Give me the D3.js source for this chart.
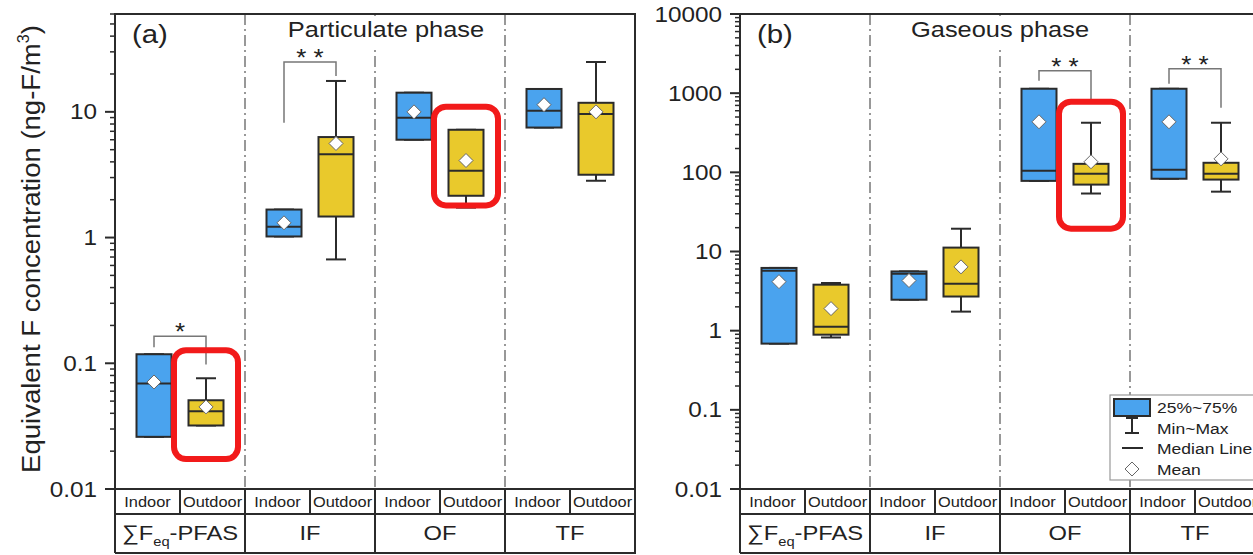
<!DOCTYPE html>
<html>
<head>
<meta charset="utf-8">
<script src="https://cdn.jsdelivr.net/npm/d3@7"></script>
<style>
  body { margin: 0; background: #fff; }
  svg { display: block; }
  text { font-family: "Liberation Sans", Arial, sans-serif; fill: #222; }
</style>
</head>
<body>
<svg id="chart" width="1253" height="555"></svg>
<script>
// categories
const groups = ["PFAS", "IF", "OF", "TF"];
const sites = ["Indoor", "Outdoor"];

// box stats per group: [min, q1, median, q3, max, mean]
const partIndoor = [
  [0.026, 0.026, 0.069, 0.118, 0.118, 0.071],
  [1.02, 1.02, 1.22, 1.67, 1.67, 1.31],
  [6.0, 6.0, 8.96, 14.2, 14.2, 10.0],
  [7.5, 7.5, 10.2, 15.2, 15.2, 11.4]
];
const partOutdoor = [
  [0.032, 0.032, 0.0416, 0.0508, 0.076, 0.045],
  [0.67, 1.47, 4.6, 6.3, 17.6, 5.6],
  [1.73, 2.15, 3.4, 7.2, 7.2, 4.1],
  [2.83, 3.16, 9.6, 11.8, 24.9, 10.0]
];
const gasIndoor = [
  [0.686, 0.686, 5.7, 6.2, 6.2, 4.16],
  [2.46, 2.46, 5.25, 5.6, 5.6, 4.3],
  [78, 78, 105, 1137, 1137, 435],
  [83, 83, 108, 1137, 1137, 435]
];
const gasOutdoor = [
  [0.82, 0.89, 1.12, 3.81, 4.0, 1.9],
  [1.74, 2.7, 3.92, 11.2, 19.4, 6.4],
  [54, 70, 96, 128, 423, 136],
  [57, 81, 96, 132, 423, 148]
];

// significance brackets: left leg end, top, right leg end (values)
const partSig = [
  { group: 0, text: "*", left: 0.134, top: 0.164, right: 0.098 },
  { group: 1, text: "* *", left: 8.2, top: 24.9, right: 19.3 }
];
const gasSig = [
  { group: 2, text: "* *", left: 1435, top: 1919, right: 826 },
  { group: 3, text: "* *", left: 1315, top: 2032, right: 654 }
];

// red highlight frames (value range around a box)
const partMarks = [
  { group: 0, site: 1, hi: 0.127, lo: 0.0173 },
  { group: 2, site: 1, hi: 11, lo: 1.8 }
];
const gasMarks = [
  { group: 2, site: 1, hi: 780, lo: 19.4 }
];

const partTicks = [0.01, 0.1, 1, 10];
const gasTicks = [0.01, 0.1, 1, 10, 100, 1000, 10000];

const legendItems = ["25%~75%", "Min~Max", "Median Line", "Mean"];

// layout
const SX = 1.13;               // source picture is a bit wider than tall
const TOP = 14, BOTTOM = 489, ROW1 = 514, ROW2 = 553;
const FILL = ["#4aa3ee", "#e9c92c"];
const INK = "#2b2b2b";

const svg = d3.select("#chart");

function label(g, x, y, str, size, anchor) {
  return g.append("text")
    .attr("transform", `translate(${x},${y}) scale(${SX},1)`)
    .attr("font-size", size)
    .attr("text-anchor", anchor || "middle")
    .text(str);
}

function groupLabel(g, x, y, name, size) {
  const t = g.append("text")
    .attr("transform", `translate(${x},${y}) scale(${SX},1)`)
    .attr("font-size", size)
    .attr("text-anchor", "middle");
  if (name === "PFAS") {
    t.append("tspan").text("\u2211F");
    t.append("tspan").attr("font-size", size * 0.62).attr("dy", 6).text("eq");
    t.append("tspan").attr("dy", -6).text("-PFAS");
  } else {
    t.text(name);
  }
}

function drawPanel(cfg) {
  const g = svg.append("g");
  const y = d3.scaleLog().domain(cfg.domain).range([BOTTOM, TOP]);
  const xg = d3.scaleBand().domain(groups).range([cfg.x0, cfg.x1]);
  const bw = xg.bandwidth();
  const xs = d3.scalePoint().domain(sites).range([bw * 0.3, bw * 0.7]);
  const cx = (gi, si) => xg(groups[gi]) + xs(sites[si]);
  const boxW = 35, capW = 20;

  // dash-dot dividers between groups
  g.selectAll(".div").data(groups.slice(1)).join("line")
    .attr("x1", d => xg(d)).attr("x2", d => xg(d))
    .attr("y1", TOP).attr("y2", BOTTOM)
    .attr("stroke", "#777").attr("stroke-width", 1.5)
    .attr("stroke-dasharray", "11,4,2,4");

  // title with white backing
  const tg = g.append("g");
  const title = label(tg, (cfg.x0 + cfg.x1) / 2 + cfg.titleDx, 37, cfg.title, 22.5);
  const bb = title.node().getBBox();
  const tw = bb.width * SX;
  tg.insert("rect", "text")
    .attr("x", (cfg.x0 + cfg.x1) / 2 + cfg.titleDx - tw / 2 - 4)
    .attr("y", TOP + 2).attr("width", tw + 8).attr("height", 30)
    .attr("fill", "#fff");

  label(g, cfg.x0 + 17, 43, cfg.tag, 26, "start");

  // boxes
  cfg.data.forEach((series, si) => {
    series.forEach((s, gi) => {
      const [mn, q1, med, q3, mx, mean] = s;
      const x = cx(gi, si);
      const b = g.append("g");
      b.append("line").attr("x1", x).attr("x2", x)
        .attr("y1", y(mx)).attr("y2", y(mn))
        .attr("stroke", INK).attr("stroke-width", 2);
      [mn, mx].forEach(v => b.append("line")
        .attr("x1", x - capW / 2).attr("x2", x + capW / 2)
        .attr("y1", y(v)).attr("y2", y(v))
        .attr("stroke", INK).attr("stroke-width", 2));
      b.append("rect")
        .attr("x", x - boxW / 2).attr("width", boxW)
        .attr("y", y(q3)).attr("height", y(q1) - y(q3))
        .attr("fill", FILL[si]).attr("stroke", INK).attr("stroke-width", 2);
      b.append("line")
        .attr("x1", x - boxW / 2).attr("x2", x + boxW / 2)
        .attr("y1", y(med)).attr("y2", y(med))
        .attr("stroke", INK).attr("stroke-width", 2);
      const ym = y(mean), r = 7;
      b.append("path")
        .attr("d", `M${x},${ym - r}L${x + r},${ym}L${x},${ym + r}L${x - r},${ym}Z`)
        .attr("fill", "#fff").attr("stroke", "#666").attr("stroke-width", 1);
    });
  });

  // significance brackets
  cfg.sig.forEach(s => {
    const xl = cx(s.group, 0), xr = cx(s.group, 1);
    g.append("path")
      .attr("d", `M${xl},${y(s.left)}V${y(s.top)}H${xr}V${y(s.right)}`)
      .attr("fill", "none").attr("stroke", "#777").attr("stroke-width", 1.5);
    label(g, (xl + xr) / 2, y(s.top) + 4, s.text, 23);
  });

  // red highlight frames
  cfg.marks.forEach(m => {
    const x = cx(m.group, m.site);
    g.append("rect")
      .attr("x", x - 32).attr("width", 64)
      .attr("y", y(m.hi)).attr("height", y(m.lo) - y(m.hi))
      .attr("rx", 12)
      .attr("fill", "none").attr("stroke", "#f21a1a").attr("stroke-width", 6);
  });

  // y axis ticks
  const d0 = Math.log10(cfg.domain[0]), d1 = Math.log10(cfg.domain[1]);
  const minor = [];
  for (let e = Math.floor(d0); e <= Math.ceil(d1); e++) {
    for (let k = 2; k <= 9; k++) {
      const v = k * Math.pow(10, e);
      if (v >= cfg.domain[0] && v <= cfg.domain[1]) minor.push(v);
    }
  }
  g.selectAll(".minor").data(minor).join("line")
    .attr("x1", cfg.x0 - 5).attr("x2", cfg.x0)
    .attr("y1", d => y(d)).attr("y2", d => y(d))
    .attr("stroke", INK).attr("stroke-width", 1.5);
  g.selectAll(".major").data(cfg.ticks).join("line")
    .attr("x1", cfg.x0 - 10).attr("x2", cfg.x0)
    .attr("y1", d => y(d)).attr("y2", d => y(d))
    .attr("stroke", INK).attr("stroke-width", 2);
  cfg.ticks.forEach(t => {
    label(g, cfg.x0 - 18, y(t) + 7.5, d3.format("~g")(t), 21.5, "end").attr("fill", "#333");
  });

  // frame + table
  const fr = g.append("g").attr("stroke", INK).attr("stroke-width", 2).attr("fill", "none");
  fr.append("path").attr("d",
    `M${cfg.x0},${ROW2}V${TOP}H${cfg.x1}V${ROW2}H${cfg.x0}` +
    `M${cfg.x0},${BOTTOM}H${cfg.x1}M${cfg.x0},${ROW1}H${cfg.x1}`);
  groups.forEach((gname, gi) => {
    const gx = xg(gname);
    if (gi > 0) fr.append("line").attr("x1", gx).attr("x2", gx).attr("y1", BOTTOM).attr("y2", ROW2);
    fr.append("line").attr("x1", gx + bw / 2).attr("x2", gx + bw / 2)
      .attr("y1", BOTTOM).attr("y2", ROW1);
    sites.forEach((s, si) => {
      label(g, gx + bw / 4 + si * bw / 2, ROW1 - 7, s, 14.5);
    });
    groupLabel(g, gx + bw / 2, ROW2 - 13, gname, 21);
  });

  return { g, y };
}

drawPanel({
  x0: 115, x1: 635, domain: [0.01, 60], ticks: partTicks,
  data: [partIndoor, partOutdoor], sig: partSig, marks: partMarks,
  title: "Particulate phase", titleDx: 11, tag: "(a)"
});
drawPanel({
  x0: 740, x1: 1260, domain: [0.01, 10000], ticks: gasTicks,
  data: [gasIndoor, gasOutdoor], sig: gasSig, marks: gasMarks,
  title: "Gaseous phase", titleDx: 0, tag: "(b)"
});

// y axis title
const yt = svg.append("text")
  .attr("font-size", 22)
  .attr("text-anchor", "middle");
yt.append("tspan").text("Equivalent F concentration (ng-F/m");
yt.append("tspan").attr("font-size", 13).attr("dy", -9).text("3");
yt.append("tspan").attr("dy", 9).text(")");
const ylen = yt.node().getComputedTextLength();
yt.attr("transform", `translate(40,249) rotate(-90) scale(${448 / ylen},1.2)`);

// legend
const lg = svg.append("g").attr("transform", "translate(1110,395)");
lg.append("rect").attr("width", 150).attr("height", 85)
  .attr("fill", "#fff").attr("stroke", "#999").attr("stroke-width", 1.2);
lg.append("rect").attr("x", 4).attr("y", 4).attr("width", 36).attr("height", 17)
  .attr("fill", FILL[0]).attr("stroke", INK).attr("stroke-width", 2);
lg.append("path").attr("d", "M16,23H28M22,23V38M15,38H29")
  .attr("stroke", INK).attr("stroke-width", 2).attr("fill", "none");
lg.append("line").attr("x1", 12).attr("x2", 33).attr("y1", 53).attr("y2", 53)
  .attr("stroke", INK).attr("stroke-width", 2);
lg.append("path").attr("d", "M22,67L29,74L22,81L15,74Z")
  .attr("fill", "#fff").attr("stroke", "#666").attr("stroke-width", 1);
legendItems.forEach((t, i) => {
  label(lg, 47, 18 + i * 20.5, t, 15.5, "start");
});
</script>
</body>
</html>
